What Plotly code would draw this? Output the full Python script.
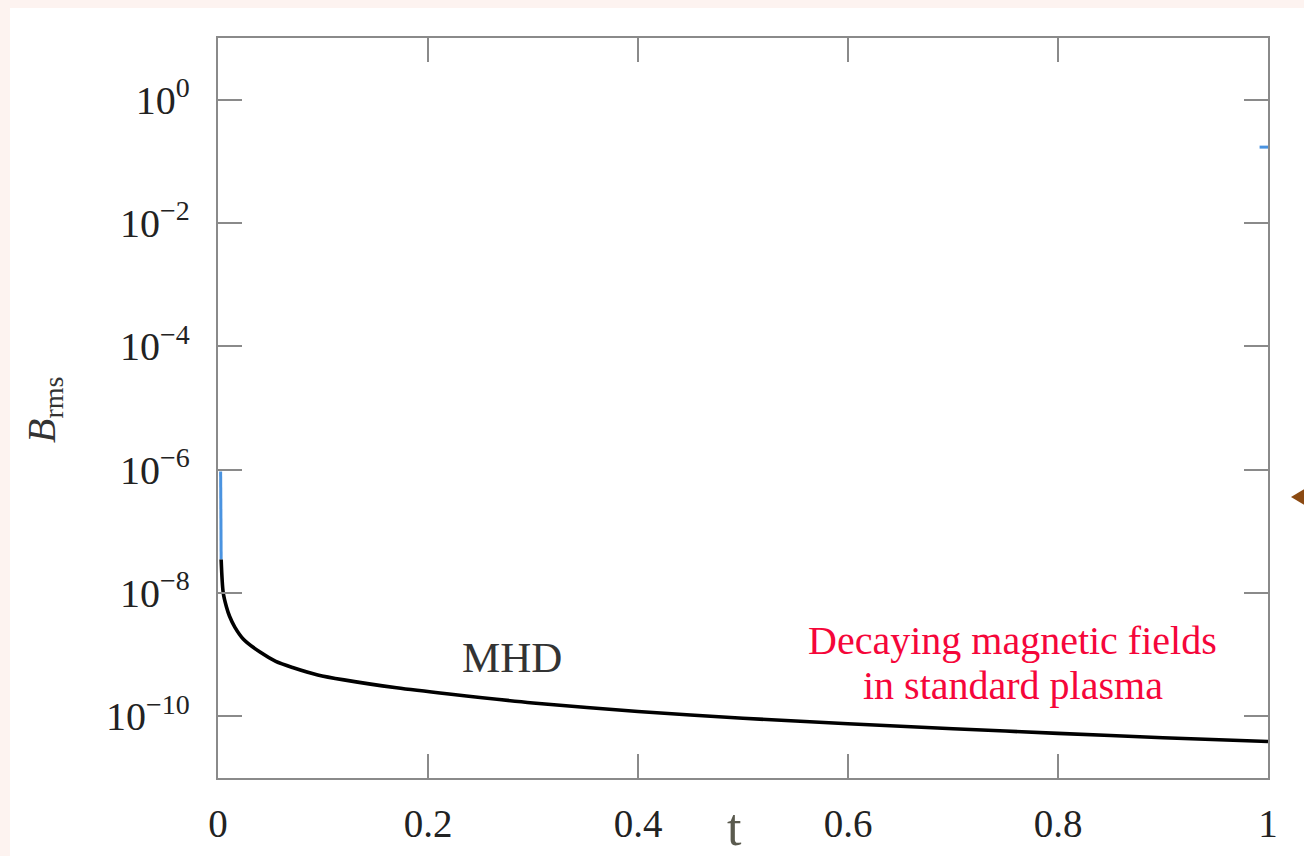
import plotly.graph_objects as go

# ---- data ----
t_mhd = [0.003, 0.005, 0.008, 0.011, 0.016, 0.024, 0.04, 0.055, 0.071, 0.095, 0.12,
         0.17, 0.22, 0.30, 0.40, 0.50, 0.60, 0.70, 0.80, 0.90, 1.0]
b_mhd = [3.5e-8, 1.0e-8, 6.0e-9, 4.2e-9, 2.8e-9, 1.8e-9, 1.1e-9, 7.8e-10, 6.2e-10,
         4.7e-10, 3.9e-10, 2.9e-10, 2.3e-10, 1.65e-10, 1.2e-10, 9.3e-11, 7.6e-11,
         6.3e-11, 5.3e-11, 4.5e-11, 3.9e-11]

t_blue = [0.0025, 0.0027, 0.003, None, 0.992, 1.0]
b_blue = [9.3e-7, 1.5e-7, 3.5e-8, None, 0.17, 0.17]

x_ticks = [0, 0.2, 0.4, 0.6, 0.8, 1]
x_ticktext = ["0", "0.2", "0.4", "0.6", "0.8", "1"]
y_ticks = [1e-10, 1e-8, 1e-6, 1e-4, 1e-2, 1]
y_ticktext = ["10<sup>−10</sup>", "10<sup>−8</sup>", "10<sup>−6</sup>",
              "10<sup>−4</sup>", "10<sup>−2</sup>", "10<sup>0</sup>"]

AXIS_GREY = "#8a8a8a"
SERIF = "Liberation Serif, Times New Roman, serif"

fig = go.Figure()
fig.add_trace(go.Scatter(x=t_blue, y=b_blue, mode="lines",
                         line=dict(color="#4a93e0", width=3), connectgaps=False,
                         showlegend=False, hoverinfo="skip"))
fig.add_trace(go.Scatter(x=t_mhd, y=b_mhd, mode="lines", line_shape="spline",
                         line=dict(color="#000000", width=3.6, smoothing=0.8),
                         showlegend=False, hoverinfo="skip"))


def px(xp):
    return (xp - 218) / 1050


def py(yp):
    return (778 - yp) / 740


# backgrounds: pink frame, white sheet
fig.add_shape(type="rect", xref="paper", yref="paper",
              x0=px(10), x1=px(1310), y0=py(860), y1=py(8),
              fillcolor="white", line=dict(width=0), layer="below")

# brown arrow head at the right edge
fig.add_shape(type="path", xref="paper", yref="paper",
              path=f"M {px(1291)} {py(497)} L {px(1306)} {py(488)} L {px(1306)} {py(506)} Z",
              fillcolor="#8b4a12", line=dict(width=0))

fig.add_annotation(x=0.28, y=-9.04, xref="x", yref="y", text="MHD", showarrow=False,
                   xanchor="center", yanchor="middle",
                   font=dict(family=SERIF, size=43, color="#333333"))
fig.add_annotation(x=0.757, y=-8.77, xref="x", yref="y", text="Decaying magnetic fields",
                   showarrow=False, xanchor="center", yanchor="middle",
                   font=dict(family=SERIF, size=40, color="#f5063a"))
fig.add_annotation(x=0.757, y=-9.50, xref="x", yref="y", text="in standard plasma",
                   showarrow=False, xanchor="center", yanchor="middle",
                   font=dict(family=SERIF, size=40, color="#f5063a"))
fig.add_annotation(x=px(734), y=py(827), xref="paper", yref="paper", text="t",
                   showarrow=False, xanchor="center", yanchor="middle",
                   font=dict(family=SERIF, size=52, color="#5a5a4e"))
fig.add_annotation(x=px(44), y=py(410), xref="paper", yref="paper",
                   text="<i>B</i><sub>rms</sub>", textangle=-90, showarrow=False,
                   xanchor="center", yanchor="middle",
                   font=dict(family=SERIF, size=40, color="#333333"))

fig.update_xaxes(range=[0, 1], tickvals=x_ticks, ticktext=x_ticktext,
                 showline=True, linecolor=AXIS_GREY, linewidth=2.4, mirror="ticks",
                 ticks="inside", ticklen=24, tickwidth=2.4, tickcolor=AXIS_GREY,
                 showgrid=False, zeroline=False, ticklabelstandoff=10,
                 tickfont=dict(family=SERIF, size=39, color="#222222"))
fig.update_yaxes(type="log", range=[-11, 1], tickvals=y_ticks, ticktext=y_ticktext,
                 showline=True, linecolor=AXIS_GREY, linewidth=2.4, mirror="ticks",
                 ticks="inside", ticklen=24, tickwidth=2.4, tickcolor=AXIS_GREY,
                 showgrid=False, zeroline=False, ticklabelstandoff=18,
                 tickfont=dict(family=SERIF, size=40, color="#222222"))

fig.update_layout(width=1304, height=856, autosize=False,
                  margin=dict(l=218, r=36, t=38, b=78),
                  paper_bgcolor="#fdf3f0", plot_bgcolor="white")

fig.write_html("out.html")
